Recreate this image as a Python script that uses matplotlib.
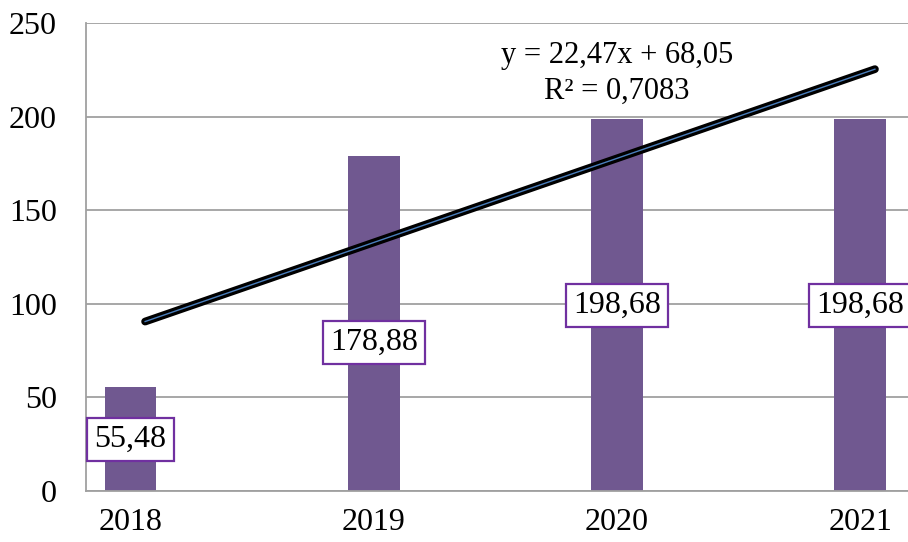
import numpy as np
import matplotlib
matplotlib.use("Agg")
import matplotlib.pyplot as plt

# Data
years = ["2018", "2019", "2020", "2021"]
values = [55.48, 178.88, 198.68, 198.68]
labels = ["55,48", "178,88", "198,68", "198,68"]

# Linear trend as reported on the chart (fitted over 7 half-step points)
slope = 22.47
intercept = 68.05
trend_x = [1, 7]
eq_text = "y = 22,47x + 68,05\nR² = 0,7083"

plt.rcParams["font.family"] = ["Liberation Serif", "DejaVu Serif"]

fig = plt.figure(figsize=(9.08, 5.42), dpi=100)
ax = fig.add_axes([86 / 908, 51 / 542, 822 / 908, 468 / 542])

pos = np.arange(len(years))
ax.bar(pos, values, width=0.213, color="#705890", zorder=2)

# Trend line: black with a thin blue core
tx = np.array(trend_x, dtype=float)
ty = slope * tx + intercept
tpos = 0.06 + (tx - 1) / 2
ax.plot(tpos, ty, color="black", lw=5.6, solid_capstyle="round", zorder=3)
ax.plot(tpos, ty, color="#4a7ebb", lw=1.0, zorder=4)

ax.text(2.0, 223, eq_text, ha="center", va="center", fontsize=22,
        linespacing=1.3, zorder=5)

# Data labels in boxes
shift = [0, -10, 0, 0]
for p, v, lab, s in zip(pos, values, labels, shift):
    ax.text(p, v / 2 + s, lab, ha="center", va="center", fontsize=23,
            zorder=6, clip_on=False,
            bbox=dict(boxstyle="square,pad=0.22", fc="white",
                      ec="#7030a0", lw=1.6))

ax.set_xlim(-0.183, 3.196)
ax.set_ylim(0, 250)
ax.set_yticks(np.arange(0, 251, 50))
ax.set_xticks(pos)
ax.set_xticklabels(years)
ax.tick_params(axis="both", length=0, labelsize=23, colors="black")
ax.tick_params(axis="y", pad=21)
ax.tick_params(axis="x", pad=12)

ax.yaxis.grid(True, color="#a0a0a0", lw=1.3, zorder=0)
ax.set_axisbelow(True)
for side in ["top", "right"]:
    ax.spines[side].set_visible(False)
for side in ["left", "bottom"]:
    ax.spines[side].set_color("#a0a0a0")
    ax.spines[side].set_linewidth(1.3)

fig.savefig("out.png", dpi=100)
